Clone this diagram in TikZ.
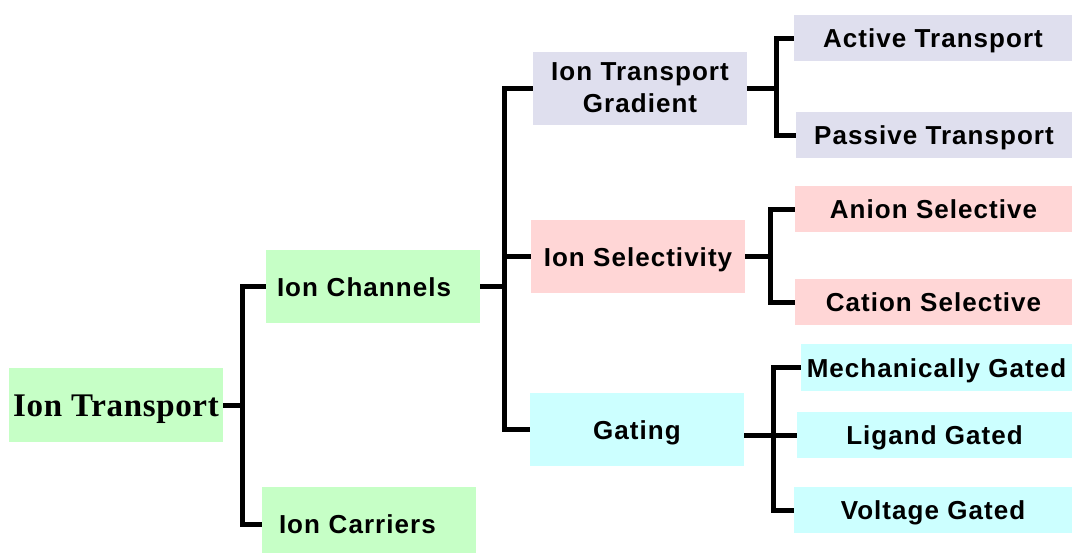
\documentclass[tikz,border=0pt]{standalone}
\usepackage{fontspec}
\setmainfont{Liberation Sans}[LetterSpace=4]
\newfontfamily\rootfont{Liberation Serif}[LetterSpace=2]
\definecolor{boxgreen}{RGB}{198,255,198}
\definecolor{boxlav}{RGB}{223,223,238}
\definecolor{boxpink}{RGB}{255,214,214}
\definecolor{boxcyan}{RGB}{204,255,255}
\tikzset{
  labelfont/.style={font=\bfseries\fontsize{26}{32}\selectfont},
  oneline/.style={text height=19pt, text depth=0pt},
  midbox/.style={rectangle, inner sep=0pt, minimum width=214pt, minimum height=73pt,
                 align=center, labelfont},
  leftbox/.style={rectangle, inner ysep=0pt, inner xsep=#1, text width=214pt-2*#1,
                 minimum height=73pt, align=left, labelfont, oneline},
  leafbox/.style={rectangle, inner sep=0pt, minimum height=46pt, labelfont, oneline},
  conn/.style={line width=5pt, line join=miter, line cap=butt},
}
\begin{document}
\begin{tikzpicture}[x=1pt, y=-1pt]
\clip (0,0) rectangle (1073,552);
\fill[white] (0,0) rectangle (1073,552);

% root
\node[rectangle, inner sep=0pt, minimum width=214pt, minimum height=74pt, fill=boxgreen,
      text height=22pt, text depth=0pt,
      font=\rootfont\bfseries\fontsize{33}{36}\selectfont] (root) at (116,405) {Ion Transport};

% first level
\node[leftbox=11pt, fill=boxgreen] (chan) at (373,286.5) {Ion Channels};
\node[leftbox=17pt, fill=boxgreen, minimum height=74pt] (carr) at (369,524) {Ion Carriers};

% second level
\node[midbox, fill=boxlav] (grad) at (640,88) {Ion Transport\\Gradient};
\node[midbox, oneline, fill=boxpink] (sel) at (638,256.5) {Ion Selectivity};
\node[midbox, oneline, fill=boxcyan] (gate) at (637,429.5) {Gating};

% leaves
\node[leafbox, minimum width=278pt, fill=boxlav] (act) at (933,38) {Active Transport};
\node[leafbox, minimum width=276pt, fill=boxlav] (pas) at (934,135) {Passive Transport};
\node[leafbox, minimum width=277pt, fill=boxpink] (ani) at (933.5,209) {Anion Selective};
\node[leafbox, minimum width=277pt, fill=boxpink] (cat) at (933.5,302) {Cation Selective};
\node[leafbox, minimum width=271pt, minimum height=47pt, fill=boxcyan] (mech) at (936.5,367.5) {Mechanically Gated};
\node[leafbox, minimum width=275pt, fill=boxcyan] (lig) at (934.5,435) {Ligand Gated};
\node[leafbox, minimum width=278pt, fill=boxcyan] (volt) at (933,510) {Voltage Gated};

% junction columns
\coordinate (j1) at (242,0);
\coordinate (j2) at (504,0);
\coordinate (j3) at (776,0);
\coordinate (j4) at (770,0);
\coordinate (j5) at (773,0);

% root -> channels / carriers
\draw[conn] (root.east) -- (root.east -| j1);
\draw[conn] (chan.west) -- (chan.west -| j1) -- (carr.west -| j1) -- (carr.west);

% channels -> gradient / selectivity / gating
\draw[conn] (chan.east) -- (chan.east -| j2);
\draw[conn] (grad.west) -- (grad.west -| j2) -- (gate.west -| j2) -- (gate.west);
\draw[conn] (sel.west) -- (sel.west -| j2);

% gradient -> active / passive
\draw[conn] (grad.east) -- (grad.east -| j3);
\draw[conn] (act.west) -- (act.west -| j3) -- (pas.west -| j3) -- (pas.west);

% selectivity -> anion / cation
\draw[conn] (sel.east) -- (sel.east -| j4);
\draw[conn] (ani.west) -- (ani.west -| j4) -- (cat.west -| j4) -- (cat.west);

% gating -> mechanical / ligand / voltage
\draw[conn] (gate.east |- lig.west) -- (lig.west);
\draw[conn] (mech.west) -- (mech.west -| j5) -- (volt.west -| j5) -- (volt.west);
\end{tikzpicture}
\end{document}
